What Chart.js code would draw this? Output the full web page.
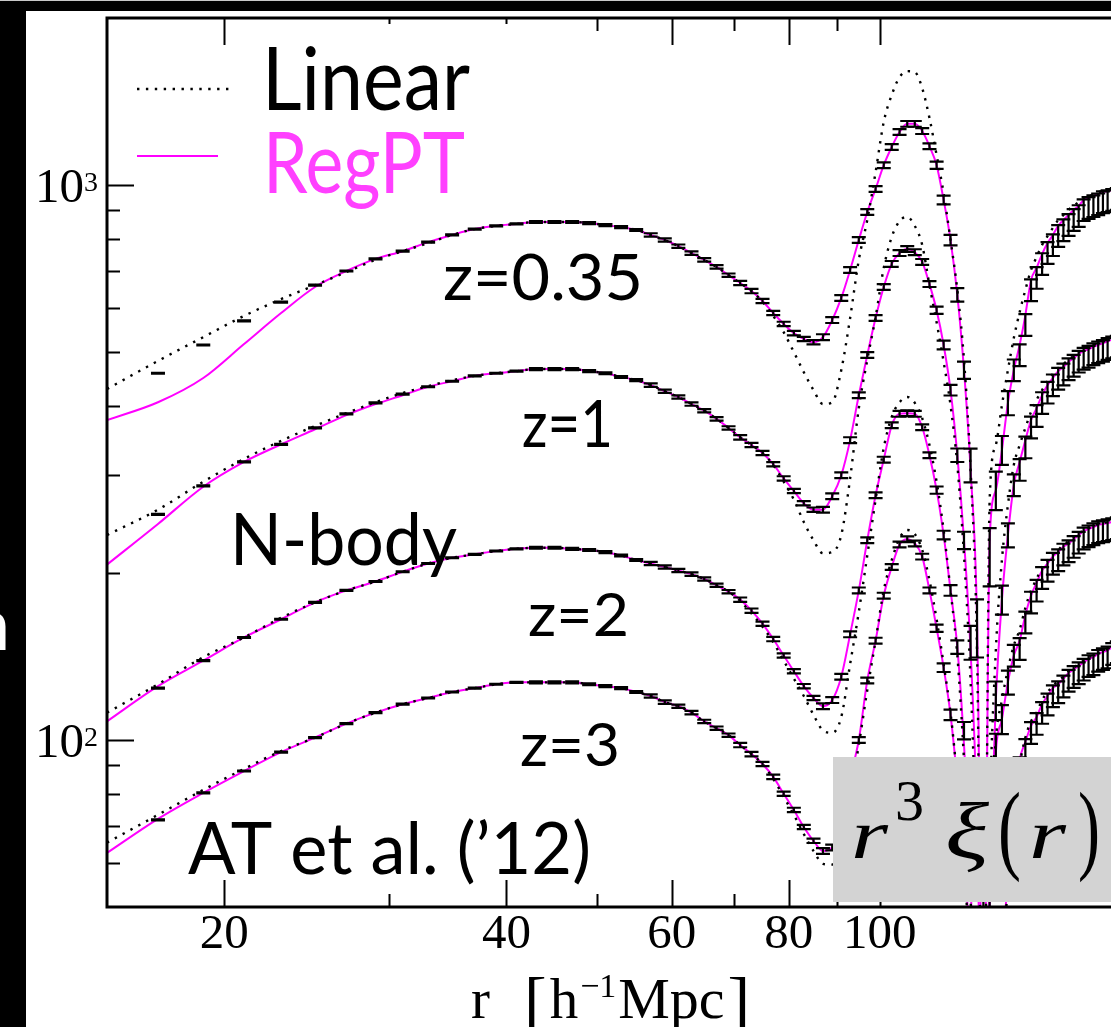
<!DOCTYPE html>
<html>
<head>
<meta charset="utf-8">
<script src="https://cdn.jsdelivr.net/npm/chart.js@4.4.1/dist/chart.umd.min.js"></script>
<style>
  html, body { margin: 0; padding: 0; background: #000; overflow: hidden; }
  #wrap { position: relative; width: 1111px; height: 1027px; overflow: hidden; }
  canvas { display: block; }
</style>
</head>
<body>
<div id="wrap"><canvas id="xi" width="1170" height="1027"></canvas></div>
<script>
// separation r [h^-1 Mpc], shared by all curves
const radius = [
  15, 17, 19, 21, 23, 25, 27, 29, 31, 33,
  35, 37, 39, 41, 43, 45, 47, 49, 51, 53,
  55, 57, 59, 61, 63, 65, 67, 69, 71, 73,
  75, 77, 79, 81, 83, 85, 87, 89, 91, 93,
  95, 97, 99, 101, 103, 105, 107, 109, 111, 113,
  115, 117, 119, 121, 123, 125, 127, 129, 131, 133,
  135, 137, 139, 141, 143, 145, 147, 149, 151, 153,
  155, 157, 159, 161, 163, 165, 167, 169, 171, 173,
  175, 177, 179, 181
];

// |r^3 xi(r)| (offset per redshift), z = 0.35
const linearZ035 = [
  429, 482, 532, 581, 623, 660, 697, 733, 760, 786,
  813, 833, 844, 851, 858, 858, 858, 854, 847, 840,
  830, 813, 796, 776, 754, 733, 712, 688, 666, 644,
  616, 581, 543, 500, 460, 427, 403, 406, 464, 576,
  733, 865, 1055, 1299, 1453, 1565, 1604, 1598, 1495, 1321,
  1132, 967, 796, 647, 484, 307, 145, 20, 271, 340,
  401, 464, 530, 590, 647, 703, 742, 780, 809, 837,
  865, 883, 902, 917, 932, 948, 955, 963, 971, 975,
  980, 984, 988, 992
];
const regptZ035 = [
  377, 406, 449, 517, 588, 655, 700, 736, 760, 789,
  813, 833, 844, 851, 858, 858, 858, 854, 847, 840,
  830, 813, 796, 776, 754, 733, 712, 688, 666, 644,
  618, 588, 562, 541, 528, 521, 532, 571, 626, 703,
  796, 894, 984, 1086, 1171, 1246, 1289, 1289, 1251, 1175,
  1086, 940, 796, 634, 464, 307, 165, 25, 229, 282,
  333, 405, 464, 515, 583, 674, 709, 751, 786, 813,
  844, 865, 883, 902, 917, 940, 948, 955, 963, 971,
  975, 980, 984, 988
];
const nbodyZ035 = [
  null, 458, 515, 569, 615, 660, 700, 736, 760, 789,
  813, 833, 844, 851, 858, 858, 858, 854, 847, 840,
  830, 813, 796, 776, 754, 733, 712, 688, 666, 644,
  618, 588, 562, 541, 528, 521, 532, 571, 626, 703,
  796, 894, 984, 1086, 1171, 1246, 1289, 1289, 1251, 1175,
  1086, 940, 796, 634, 464, 313, 160, 40, 215, 282,
  333, 405, 464, 494, 560, 647, 681, 721, 755, 780,
  810, 830, 848, 866, 880, 902, 910, 917, 924, 932,
  936, 941, 945, null
];

// z = 1
const linearZ1 = [
  234, 260, 292, 321, 346, 368, 388, 406, 422, 434,
  445, 453, 458, 462, 466, 466, 466, 462, 458, 451,
  445, 436, 425, 415, 403, 392, 379, 365, 351, 340,
  329, 313, 292, 271, 247, 229, 217, 218, 234, 296,
  396, 484, 578, 709, 806, 861, 876, 844, 780, 660,
  566, 480, 401, 313, 215, 128, 56, 15, 72, 145,
  211, 265, 313, 340, 365, 390, 410, 427, 443, 457,
  468, 476, 484, 492, 500, 506, 511, 515, 519, 523,
  526, 528, 530, 532
];
const regptZ1 = [
  207, 245, 286, 317, 341, 363, 385, 403, 418, 433,
  443, 453, 458, 462, 466, 466, 466, 462, 458, 451,
  445, 436, 425, 415, 403, 392, 379, 365, 351, 340,
  329, 314, 296, 281, 267, 260, 260, 275, 300, 347,
  418, 494, 576, 655, 721, 754, 767, 757, 727, 663,
  595, 515, 427, 326, 229, 145, 72, 20, 56, 118,
  179, 234, 288, 317, 347, 377, 396, 418, 436, 449,
  462, 470, 480, 488, 496, 502, 506, 511, 515, 519,
  523, 526, 528, 530
];
const nbodyZ1 = [
  null, 255, 287, 317, 341, 365, 387, 405, 420, 433,
  443, 453, 458, 462, 466, 466, 466, 462, 458, 451,
  445, 436, 425, 415, 403, 392, 379, 365, 351, 340,
  329, 314, 296, 281, 267, 260, 260, 275, 300, 347,
  418, 494, 576, 655, 721, 754, 767, 757, 727, 663,
  595, 515, 427, 326, 229, 150, 72, 25, 60, 118,
  179, 234, 288, 307, 337, 366, 384, 405, 423, 436,
  448, 456, 466, 473, 481, 487, 491, 496, 500, 503,
  507, 510, 512, null
];

// z = 2
const linearZ2 = [
  112, 126, 141, 153, 166, 177, 186, 193, 201, 208,
  213, 216, 219, 221, 222, 222, 221, 220, 218, 215,
  211, 208, 205, 202, 199, 195, 190, 185, 178, 169,
  160, 150, 139, 129, 120, 111, 104, 103, 110, 137,
  170, 215, 271, 336, 382, 406, 415, 405, 380, 340,
  292, 239, 186, 142, 92, 52, 20, 6, 60, 100,
  118, 134, 148, 158, 173, 186, 195, 205, 211, 216,
  220, 225, 228, 232, 235, 239, 241, 243, 245, 246,
  247, 248, 249, 250
];
const regptZ2 = [
  108, 125, 139, 153, 165, 177, 186, 193, 201, 208,
  213, 216, 219, 221, 222, 222, 221, 220, 218, 215,
  211, 208, 205, 202, 199, 195, 190, 185, 179, 171,
  162, 152, 142, 133, 125, 119, 115, 118, 130, 155,
  186, 229, 276, 320, 369, 387, 388, 387, 366, 326,
  282, 234, 186, 147, 98, 56, 22, 8, 50, 95,
  109, 127, 142, 151, 168, 182, 192, 202, 208, 214,
  218, 223, 226, 230, 234, 238, 240, 242, 244, 245,
  246, 247, 248, 249
];
const nbodyZ2 = [
  null, 124, 139, 153, 165, 177, 186, 193, 201, 208,
  213, 216, 219, 221, 222, 222, 221, 220, 218, 215,
  211, 208, 205, 202, 199, 195, 190, 185, 179, 171,
  162, 152, 142, 133, 125, 119, 115, 118, 130, 155,
  186, 229, 276, 320, 369, 387, 388, 387, 366, 326,
  282, 234, 186, 147, 104, 60, 25, 10, 48, 95,
  109, 127, 142, 146, 163, 177, 186, 196, 202, 208,
  211, 216, 219, 223, 227, 231, 233, 235, 237, 238,
  239, 240, 241, null
];

// z = 3
const linearZ3 = [
  65.3, 73.3, 81.3, 88.7, 95.5, 101, 107, 112, 116, 119,
  122, 124, 126, 127, 127, 127, 127, 126, 125, 124,
  122, 120, 117, 115, 112, 108, 105, 102, 97.9, 94.3,
  90.5, 85.1, 79.0, 73.3, 67.7, 63.1, 59.8, 59.6, 66.1, 79.6,
  97.9, 123, 151, 186, 211, 231, 239, 235, 220, 194,
  165, 137, 112, 84.7, 60.8, 38, 24, 10, 3, 17,
  36, 55, 74, 90, 101, 108, 112, 118, 122, 125,
  128, 130, 133, 135, 137, 139, 141, 142, 144, 145,
  146, 147, 148, 149
];
const regptZ3 = [
  62.6, 72.1, 80.3, 87.9, 95.1, 101, 107, 112, 116, 119,
  122, 124, 126, 127, 127, 127, 127, 126, 125, 124,
  122, 120, 117, 115, 112, 108, 105, 102, 97.9, 94.3,
  90.5, 85.8, 80.0, 74.8, 69.7, 65.8, 63.1, 64.0, 71.8, 85.4,
  100, 128, 151, 182, 205, 225, 230, 226, 214, 186,
  159, 135, 111, 84.7, 63.4, 40, 26, 13, 2, 19,
  38, 57, 76, 92, 99.2, 106, 110, 116, 120, 124,
  126, 129, 132, 134, 136, 138, 140, 141, 143, 144,
  145, 147, 148, 148
];
const nbodyZ3 = [
  null, 71.8, 80.3, 87.9, 95.1, 101, 107, 112, 116, 119,
  122, 124, 126, 127, 127, 127, 127, 126, 125, 124,
  122, 120, 117, 115, 112, 108, 105, 102, 97.9, 94.3,
  90.5, 85.8, 80.0, 74.8, 69.7, 65.8, 63.1, 64.0, 71.8, 85.4,
  100, 128, 151, 182, 205, 225, 230, 226, 214, 186,
  159, 135, 111, 84.7, 63.4, 40, 26, 13, 2, 19,
  38, 57, 76, 89, 96, 103, 107, 112, 116, 120,
  122, 125, 128, 130, 132, 134, 136, 137, 139, 140,
  141, 143, 144, null
];

// fractional 1-sigma error of the N-body points
const nbodyRelErr = [
  0.002, 0.002, 0.002, 0.002, 0.002, 0.002, 0.002, 0.002, 0.002, 0.002,
  0.002, 0.002, 0.002, 0.002, 0.004, 0.004, 0.004, 0.004, 0.004, 0.004,
  0.004, 0.007, 0.007, 0.007, 0.007, 0.007, 0.007, 0.007, 0.009, 0.009,
  0.009, 0.009, 0.009, 0.009, 0.009, 0.009, 0.012, 0.012, 0.012, 0.012,
  0.012, 0.012, 0.012, 0.012, 0.012, 0.012, 0.012, 0.012, 0.012, 0.012,
  0.015, 0.018, 0.022, 0.028, 0.036, 0.07, 0.12, 0.3, 0.12, 0.08,
  0.06, 0.05, 0.045, 0.045, 0.045, 0.045, 0.045, 0.045, 0.045, 0.045,
  0.045, 0.045, 0.045, 0.045, 0.045, 0.045, 0.045, 0.045, 0.045, 0.045,
  0.045, 0.045, 0.045, 0.045
];

// axis ticks
const xTicksMajor = [20, 40, 60, 80, 100];
const xTicksMinor = [30, 50, 70, 90];
const yTicksMajor = [100, 1000];
const yTicksMinor = [60, 70, 80, 90, 200, 300, 400, 500, 600, 700, 800, 900];

const MAGENTA = '#ff00ff';
const SERIF = '"Liberation Serif", "DejaVu Serif", serif';
const SANS = 'Lato, "Open Sans", sans-serif';

const toPoints = vals => vals.map((v, i) => ({ x: radius[i], y: v }));

const linearSets = [linearZ035, linearZ1, linearZ2, linearZ3];
const regptSets = [regptZ035, regptZ1, regptZ2, regptZ3];
const nbodySets = [nbodyZ035, nbodyZ1, nbodyZ2, nbodyZ3];

const datasets = [];
linearSets.forEach(vals => datasets.push({
  data: toPoints(vals),
  borderColor: '#000',
  borderWidth: 2.4,
  borderDash: [2.4, 6.5],
  cubicInterpolationMode: 'monotone',
  pointRadius: 0
}));
regptSets.forEach(vals => datasets.push({
  data: toPoints(vals),
  borderColor: MAGENTA,
  borderWidth: 2,
  cubicInterpolationMode: 'monotone',
  pointRadius: 0
}));

// stretch/squeeze a label so it spans the given width
function fitText(ctx, text, x, base, size, width, color, family, style) {
  ctx.save();
  ctx.font = (style ? style + ' ' : '') + size + 'px ' + (family || SANS);
  const w = ctx.measureText(text).width;
  ctx.translate(x, base);
  ctx.scale(width / w, 1);
  ctx.fillStyle = color;
  ctx.textBaseline = 'alphabetic';
  ctx.textAlign = 'left';
  ctx.fillText(text, 0, 0);
  ctx.restore();
}

const backdrop = {
  id: 'backdrop',
  beforeDraw(chart) {
    const { ctx, width, height } = chart;
    ctx.save();
    ctx.fillStyle = '#000';
    ctx.fillRect(0, 0, width, height);
    ctx.fillStyle = '#c8c8c8';
    ctx.fillRect(0, 0, width, 1);
    ctx.fillStyle = '#fff';
    ctx.fillRect(26, 11, width - 26, height - 11);
    ctx.restore();
  }
};

const errorBars = {
  id: 'errorBars',
  afterDatasetsDraw(chart) {
    const { ctx, chartArea: a, scales: { x, y } } = chart;
    ctx.save();
    ctx.beginPath();
    ctx.rect(a.left, a.top, a.right - a.left, a.bottom - a.top);
    ctx.clip();
    ctx.strokeStyle = '#000';
    ctx.lineWidth = 2.2;
    nbodySets.forEach(vals => {
      vals.forEach((v, i) => {
        if (v == null) return;
        const px = x.getPixelForValue(radius[i]);
        const e = v * nbodyRelErr[i];
        const top = y.getPixelForValue(v + e);
        const bot = y.getPixelForValue(v - e);
        ctx.beginPath();
        ctx.moveTo(px, top); ctx.lineTo(px, bot);
        ctx.moveTo(px - 7, top); ctx.lineTo(px + 7, top);
        ctx.moveTo(px - 7, bot); ctx.lineTo(px + 7, bot);
        ctx.stroke();
      });
    });
    ctx.restore();
  }
};

const frame = {
  id: 'frame',
  afterDraw(chart) {
    const { ctx, chartArea: a, scales: { x, y } } = chart;
    ctx.save();

    // ticks, pointing inwards
    ctx.strokeStyle = '#000';
    ctx.lineWidth = 2;
    ctx.beginPath();
    const xt = (v, len) => {
      const px = Math.round(x.getPixelForValue(v)) + 0.5;
      ctx.moveTo(px, a.bottom); ctx.lineTo(px, a.bottom - len);
      ctx.moveTo(px, a.top); ctx.lineTo(px, a.top + len);
    };
    const yt = (v, len) => {
      const py = Math.round(y.getPixelForValue(v)) + 0.5;
      ctx.moveTo(a.left, py); ctx.lineTo(a.left + len, py);
    };
    xTicksMajor.forEach(v => xt(v, 27));
    xTicksMinor.forEach(v => xt(v, 13));
    yTicksMajor.forEach(v => yt(v, 27));
    yTicksMinor.forEach(v => yt(v, 13));
    ctx.stroke();

    // box
    ctx.lineWidth = 3;
    ctx.strokeRect(a.left, a.top, a.right - a.left, a.bottom - a.top);

    // tick labels
    ctx.fillStyle = '#000';
    ctx.font = '49px ' + SERIF;
    ctx.textAlign = 'center';
    ctx.textBaseline = 'alphabetic';
    xTicksMajor.forEach(v => ctx.fillText(String(v), x.getPixelForValue(v), 948));
    yTicksMajor.forEach(v => {
      const py = y.getPixelForValue(v);
      const exp = String(Math.round(Math.log10(v)));
      ctx.font = '28px ' + SERIF;
      ctx.textAlign = 'left';
      ctx.fillText(exp, 84, py + 6);
      ctx.font = '49px ' + SERIF;
      ctx.textAlign = 'right';
      ctx.fillText('10', 84, py + 17);
    });

    // axis title r [h^-1 Mpc]
    ctx.textAlign = 'left';
    const base = 1018;
    let cx = 471;
    const part = (t, size, dy, gap) => {
      ctx.font = size + 'px ' + SERIF;
      ctx.fillText(t, cx, base + (dy || 0));
      cx += ctx.measureText(t).width + (gap || 0);
    };
    part('r', 57, 0, 34);
    part('[', 68, 6, 3);
    part('h', 57, 0, 2);
    part('\u22121', 34, -21, 2);
    part('Mpc', 58, 0, 3);
    part(']', 68, 6);

    // legend
    ctx.fillStyle = '#fff';
    ctx.fillRect(248, 24, 282, 182);
    ctx.lineWidth = 2.4;
    ctx.strokeStyle = '#000';
    ctx.setLineDash([2.4, 6.5]);
    ctx.beginPath(); ctx.moveTo(137, 89); ctx.lineTo(229, 89); ctx.stroke();
    ctx.setLineDash([]);
    ctx.lineWidth = 2;
    ctx.strokeStyle = MAGENTA;
    ctx.beginPath(); ctx.moveTo(137, 156); ctx.lineTo(218, 156); ctx.stroke();
    fitText(ctx, 'Linear', 262, 110, 88, 208, '#000');
    fitText(ctx, 'RegPT', 263, 193, 86, 202, '#ff40ff');

    // curve annotations
    fitText(ctx, 'z=0.35', 443, 300, 64, 200, '#000');
    fitText(ctx, 'z=1', 522, 447, 66, 91, '#000');
    fitText(ctx, 'N-body', 230, 565, 72, 227, '#000');
    fitText(ctx, 'z=2', 528, 636, 60, 101, '#000');
    fitText(ctx, 'z=3', 520, 766, 60, 100, '#000');
    fitText(ctx, 'AT et al. (\u201912)', 188, 874, 72, 403, '#000');

    // quantity plotted
    ctx.fillStyle = '#d3d3d3';
    ctx.fillRect(833, 757, 400, 145);
    fitText(ctx, 'r', 851, 858, 70, 37, '#000', SERIF, 'italic');
    fitText(ctx, '3', 895, 820, 56, 29, '#000', SERIF);
    fitText(ctx, '\u03be', 945, 858, 80, 44, '#000', SERIF, 'italic');
    fitText(ctx, '(', 998, 861, 100, 23, '#000', SERIF);
    fitText(ctx, 'r', 1029, 858, 70, 37, '#000', SERIF, 'italic');
    fitText(ctx, ')', 1078, 861, 100, 22, '#000', SERIF);

    // edge of a neighbouring caption on the dark margin
    ctx.fillStyle = '#fff';
    ctx.font = '74px ' + SANS;
    ctx.fillText('n', -31, 650);
    ctx.fillStyle = '#000';
    ctx.fillRect(7, 560, 19, 120);

    ctx.restore();
  }
};

new Chart(document.getElementById('xi'), {
  type: 'line',
  data: { datasets },
  options: {
    responsive: false,
    animation: false,
    devicePixelRatio: 1,
    events: [],
    layout: { padding: { left: 107, top: 18, right: 8, bottom: 120 } },
    plugins: { legend: { display: false }, tooltip: { enabled: false } },
    elements: { line: { capBezierPoints: false } },
    scales: {
      x: { type: 'logarithmic', min: 15, max: 200, display: false },
      y: { type: 'logarithmic', min: 50, max: 2000, display: false }
    }
  },
  plugins: [backdrop, errorBars, frame]
});
</script>
</body>
</html>
